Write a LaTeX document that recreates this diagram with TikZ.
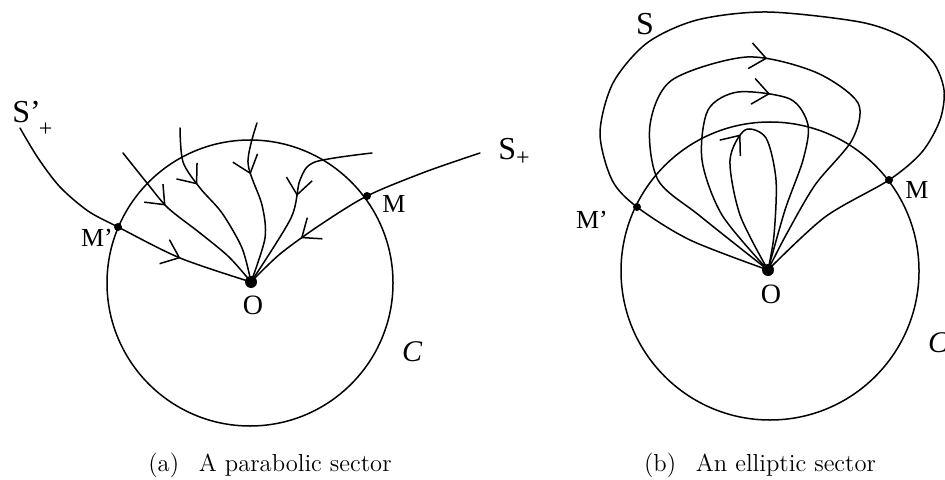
\documentclass[tikz,border=0pt]{standalone}
\usepackage{fontspec}
\newfontfamily\lblfont{Liberation Serif}
\usetikzlibrary{arrows.meta,decorations.markings}

\tikzset{
  orbit/.style={line width=.75pt,line cap=round,line join=round},
  flow/.style={orbit,postaction={decorate},decoration={markings,
      mark=at position #1 with {\arrow{Straight Barb[length=8pt,width=13pt]}}}},
  lbl/.style={font=\lblfont\fontsize{14}{16}\selectfont,inner sep=0pt},
  mlbl/.style={font=\lblfont\fontsize{13}{15}\selectfont,inner sep=0pt},
  slbl/.style={font=\lblfont\fontsize{16}{18}\selectfont,inner sep=0pt},
  clbl/.style={font=\lblfont\itshape\fontsize{15}{17}\selectfont,inner sep=0pt},
  capt/.style={font=\fontsize{12.3}{14}\selectfont,inner sep=0pt}
}

\begin{document}
\begin{tikzpicture}[x=.5pt,y=-.5pt]
\useasboundingbox (0,0) rectangle (945,480);
%\draw[help lines] (0,0) grid[step=50] (945,480);
%
% (a) parabolic sector
\coordinate (Ca) at (250,283);
\coordinate (Oa) at (251,282);
\coordinate (Ma) at (367,196);
\coordinate (Mpa) at (118,227);
\coordinate (Spa) at (20,128);
\coordinate (Sa) at (480,153);
\coordinate (Ta) at (123,153);
\coordinate (Tb) at (180,128);
\coordinate (Tc) at (257,123);
\coordinate (Td) at (372,153);
%
\draw[orbit] (Ca) circle[radius=71.5pt];
\draw[flow=.37] plot[smooth] coordinates {(Ta) (147,183) (168,208) (200,233) (229,257) (Oa)};
\draw[flow=.35] plot[smooth] coordinates {(Tb) (183,162) (200,188) (222,213) (242,248) (Oa)};
\draw[flow=.32] plot[smooth] coordinates {(Tc) (248,163) (262,205) (265,238) (Oa)};
\draw[flow=.5] plot[smooth] coordinates {(Td) (315,162) (300,180) (291,218) (Oa)};
\draw[flow=.74] plot[smooth] coordinates {(Spa) (38,158) (60,187) (88,211) (Mpa) (180,258) (Oa)};
\draw[flow=.75] plot[smooth] coordinates {(Sa) (425,172) (Ma) (320,225) (280,254) (Oa)};
\fill (Oa) circle[radius=3pt];
\foreach \p in {Ma,Mpa} \fill (\p) circle[radius=2pt];
%
\node[lbl] (lOa) at (253,305) {O};
\node[mlbl] (lMa) at (394,204) {M};
\node[mlbl] (lMpa) at (97,238) {M’};
\node[slbl,anchor=base west] (lSpa) at (12,123) {S’\kern-1pt\raisebox{-7pt}{\fontsize{12}{12}\selectfont +}};
\node[slbl,anchor=base west] (lSa) at (498,160) {S\raisebox{-3pt}{\fontsize{12}{12}\selectfont +}};
\node[clbl] (lCa) at (412,352) {C};
%
% (b) elliptic sector
\coordinate (Cb) at (770,271);
\coordinate (Ob) at (768,270);
\coordinate (Mb) at (889,180);
\coordinate (Mpb) at (637,207);
%
\draw[orbit] (Cb) circle[radius=74.5pt];
\draw[orbit] plot[smooth] coordinates {(Ob) (825,217) (Mb) (922,152) (940,120) (944,90) (933,62) (905,38) (860,22) (767,12) (697,20) (647,43) (613,83) (600,133) (612,180) (Mpb) (690,240) (Ob)};
\draw[flow=.54] plot[smooth] coordinates {(Ob) (700,216) (658,180) (650,125) (672,80) (747,57) (815,72) (858,103) (852,140) (815,185) (786,235) (Ob)};
\draw[flow=.55] plot[smooth] coordinates {(Ob) (722,215) (702,160) (708,110) (738,92) (790,99) (808,125) (803,160) (785,210) (Ob)};
\draw[flow=.47] plot[smooth] coordinates {(Ob) (740,215) (730,160) (745,130) (766,138) (776,180) (774,235) (Ob)};
\fill (Ob) circle[radius=3pt];
\foreach \p in {Mb,Mpb} \fill (\p) circle[radius=2pt];
%
\node[lbl] (lOb) at (771,294) {O};
\node[mlbl] (lMb) at (917,190) {M};
\node[mlbl] (lMpb) at (592,220) {M’};
\node[slbl] (lSb) at (645,24) {S};
\node[clbl] (lCb) at (938,343) {C};
%
\node[capt] (capa) at (270,465) {(a)\hspace{.8em}A parabolic sector};
\node[capt] (capb) at (760,465) {(b)\hspace{.8em}An elliptic sector};
\end{tikzpicture}
\end{document}
